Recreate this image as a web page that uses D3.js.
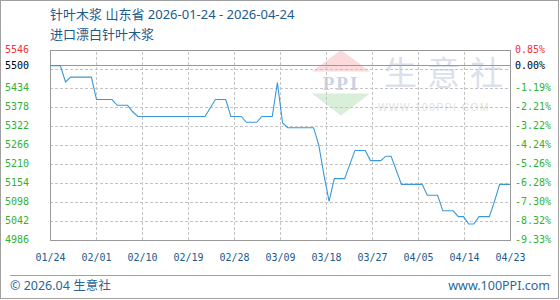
<!DOCTYPE html>
<html>
<head>
<meta charset="utf-8">
<script src="https://cdn.jsdelivr.net/npm/d3@7"></script>
<style>
    body { margin: 0; background: #fff; }
    svg { display: block; }
    .axis text { font-family: "DejaVu Sans Mono", monospace; font-size: 10px; }
    .gridline line { stroke: #c4c4c4; stroke-dasharray: 3,2; shape-rendering: crispEdges; }
    .gridline path, .axis path { display: none; }
    .label { font-family: "Noto Sans", "Noto Sans CJK SC", sans-serif; }
</style>
</head>
<body>
<svg id="chart"></svg>
<script>
// Price series (only the turning points)
let dates = [
    "2026-01-24", "2026-01-26", "2026-01-27", "2026-01-28", "2026-02-01", "2026-02-02",
    "2026-02-05", "2026-02-06", "2026-02-08", "2026-02-09", "2026-02-10", "2026-02-23",
    "2026-02-24", "2026-02-25", "2026-02-27", "2026-02-28", "2026-03-02", "2026-03-03",
    "2026-03-05", "2026-03-06", "2026-03-08", "2026-03-09", "2026-03-10", "2026-03-11",
    "2026-03-16", "2026-03-17", "2026-03-18", "2026-03-19", "2026-03-20", "2026-03-22",
    "2026-03-24", "2026-03-26", "2026-03-27", "2026-03-29", "2026-03-30", "2026-03-31",
    "2026-04-02", "2026-04-06", "2026-04-07", "2026-04-09", "2026-04-10", "2026-04-12",
    "2026-04-13", "2026-04-14", "2026-04-15", "2026-04-16", "2026-04-17", "2026-04-19",
    "2026-04-20", "2026-04-21", "2026-04-23"
];
let prices = [
    5500, 5500, 5452, 5466, 5466, 5400,
    5400, 5383, 5383, 5364, 5350, 5350,
    5375, 5400, 5400, 5350, 5350, 5333,
    5333, 5350, 5350, 5450, 5331, 5317,
    5317, 5266, 5178, 5100, 5167, 5167,
    5250, 5250, 5220, 5220, 5233, 5233,
    5150, 5150, 5118, 5118, 5072, 5072,
    5055, 5055, 5033, 5033, 5055, 5055,
    5100, 5150, 5150
];

let basePrice = 5500;
let priceDomain = [4986, 5546];

// tick values and labels
let priceTicks = [5546, 5500, 5434, 5378, 5322, 5266, 5210, 5154, 5098, 5042, 4986];
let leftLabels = ["5546", "5500", "5434", "5378", "5322", "5266", "5210", "5154", "5098", "5042", "4986"];
let rightLabels = ["0.85%", "0.00%", "-1.19%", "-2.21%", "-3.22%", "-4.24%", "-5.26%", "-6.28%", "-7.30%", "-8.32%", "-9.33%"];
let gridPrices = [5490, 5434, 5378, 5322, 5266, 5210, 5154, 5098, 5042];
let xLabels = ["01/24", "02/01", "02/10", "02/19", "02/28", "03/09", "03/18", "03/27", "04/05", "04/14", "04/23"];

let titleText = "针叶木浆 山东省 2026-01-24 - 2026-04-24";
let subtitleText = "进口漂白针叶木浆";
let footLeft = "© 2026.04 生意社";
let footRight = "www.100PPI.com";

let scales = {};
let config = { svg: {}, plot: {} };
let svg, plot;

config.svg.width = 560;
config.svg.height = 300;
config.plot.x = 50;
config.plot.y = 50;
config.plot.width = 460;
config.plot.height = 190;

const blueText = "#1d5a8c";

function translate(x, y) {
    return 'translate(' + x + ',' + y + ')';
}

// red above the base price, black on it, green below
function tickColor(i) {
    if (priceTicks[i] > basePrice) return "#ee3333";
    if (priceTicks[i] === basePrice) return "#000";
    return "#33b033";
}

let drawChart = function() {
    svg = d3.select("#chart")
        .attr("width", config.svg.width)
        .attr("height", config.svg.height);

    // outer frame
    svg.append("rect")
        .attr("x", 0.5).attr("y", 0.5)
        .attr("width", config.svg.width - 2).attr("height", config.svg.height - 2)
        .attr("fill", "#fff").attr("stroke", "#a0a0a0");

    // titles
    svg.append("text").attr("class", "label").attr("x", 50).attr("y", 19)
        .style("font-size", "13px")
        .attr("fill", blueText).text(titleText);
    svg.append("text").attr("class", "label").attr("x", 50).attr("y", 39)
        .style("font-size", "13px")
        .attr("fill", blueText).text(subtitleText);

    // watermark
    let wm = svg.append("g").attr("id", "watermark");
    wm.append("path").attr("d", "M341,50 L370,71.5 L312,71.5 Z").attr("fill", "#fadada");
    wm.append("path").attr("d", "M312,93.5 L370,93.5 L341,115.5 Z").attr("fill", "#d9efd9");
    wm.append("text").attr("x", 341).attr("y", 90).attr("text-anchor", "middle")
        .style("font-family", "'Liberation Serif'").style("font-size", "19px").style("font-weight", "bold")
        .style("letter-spacing", "2px").attr("fill", "#c9d3e6").text("PPI");
    wm.append("text").attr("x", 384).attr("y", 85)
        .style("font-family", "'Noto Sans CJK SC'").style("font-size", "33px")
        .style("letter-spacing", "10px").attr("fill", "#dbe1ec").text("生意社");
    wm.append("text").attr("x", 378).attr("y", 111)
        .style("font-family", "'Liberation Sans'").style("font-size", "10px")
        .style("letter-spacing", "1.6px").attr("fill", "#e2e2e2").text("WWW.100PPI.COM");

    plot = svg.append("g").attr("transform", translate(config.plot.x, config.plot.y));

    // scales
    let parseDate = d3.timeParse("%Y-%m-%d");
    let data = dates.map((d, i) => ({ date: parseDate(d), price: prices[i] }));

    scales.date = d3.scaleTime()
        .domain(d3.extent(data, d => d.date))
        .range([0, config.plot.width]);
    scales.price = d3.scaleLinear()
        .domain(priceDomain)
        .range([config.plot.height, 0]);
    scales.label = d3.scalePoint()
        .domain(xLabels)
        .range([0, config.plot.width]);

    // gridlines
    plot.append("g").attr("class", "gridline")
        .call(d3.axisLeft(scales.price).tickValues(gridPrices).tickSize(-config.plot.width).tickFormat(""));
    plot.append("g").attr("class", "gridline")
        .attr("transform", translate(0, config.plot.height))
        .call(d3.axisBottom(scales.label).tickSize(config.plot.height).tickFormat(""))
        .selectAll("line").attr("y2", -config.plot.height);

    // base price line
    plot.append("line")
        .attr("x1", 0).attr("x2", config.plot.width)
        .attr("y1", scales.price(basePrice)).attr("y2", scales.price(basePrice))
        .attr("stroke", "#999").style("shape-rendering", "crispEdges");

    // plot frame
    plot.append("rect")
        .attr("width", config.plot.width).attr("height", config.plot.height)
        .attr("fill", "none").attr("stroke", "#999").style("shape-rendering", "crispEdges");

    // price line
    let line = d3.line()
        .x(d => scales.date(d.date))
        .y(d => scales.price(d.price));
    plot.append("path").datum(data)
        .attr("fill", "none").attr("stroke", "#3a98d8").attr("stroke-width", 1.1)
        .attr("d", line);

    // left axis: prices
    let left = plot.append("g").attr("class", "axis")
        .call(d3.axisLeft(scales.price).tickValues(priceTicks).tickSize(0)
            .tickFormat((d, i) => leftLabels[i]));
    left.selectAll("text")
        .attr("x", 5 - config.plot.x).attr("dy", "0.25em")
        .attr("text-anchor", "start")
        .attr("fill", (d, i) => tickColor(i));

    // right axis: change against base price
    let right = plot.append("g").attr("class", "axis")
        .attr("transform", translate(config.plot.width, 0))
        .call(d3.axisRight(scales.price).tickValues(priceTicks).tickSize(0).tickPadding(5)
            .tickFormat((d, i) => rightLabels[i]));
    right.selectAll("text")
        .attr("dy", "0.25em")
        .attr("fill", (d, i) => tickColor(i));

    // bottom axis: dates
    let bottom = plot.append("g").attr("class", "axis")
        .attr("transform", translate(0, config.plot.height))
        .call(d3.axisBottom(scales.label).tickSize(0).tickPadding(14));
    bottom.selectAll("text").attr("fill", blueText);

    // footer
    svg.append("line")
        .attr("x1", 10).attr("x2", 551).attr("y1", 275.5).attr("y2", 275.5)
        .attr("stroke", "#a0a0a0");
    svg.append("text").attr("class", "label").attr("x", 10).attr("y", 290)
        .style("font-size", "12.5px")
        .attr("fill", "#2a6699").text(footLeft);
    svg.append("text").attr("class", "label").attr("x", 550).attr("y", 290).attr("text-anchor", "end")
        .style("font-size", "12.5px")
        .attr("fill", "#2a6699").text(footRight);
};

drawChart();
</script>
</body>
</html>
